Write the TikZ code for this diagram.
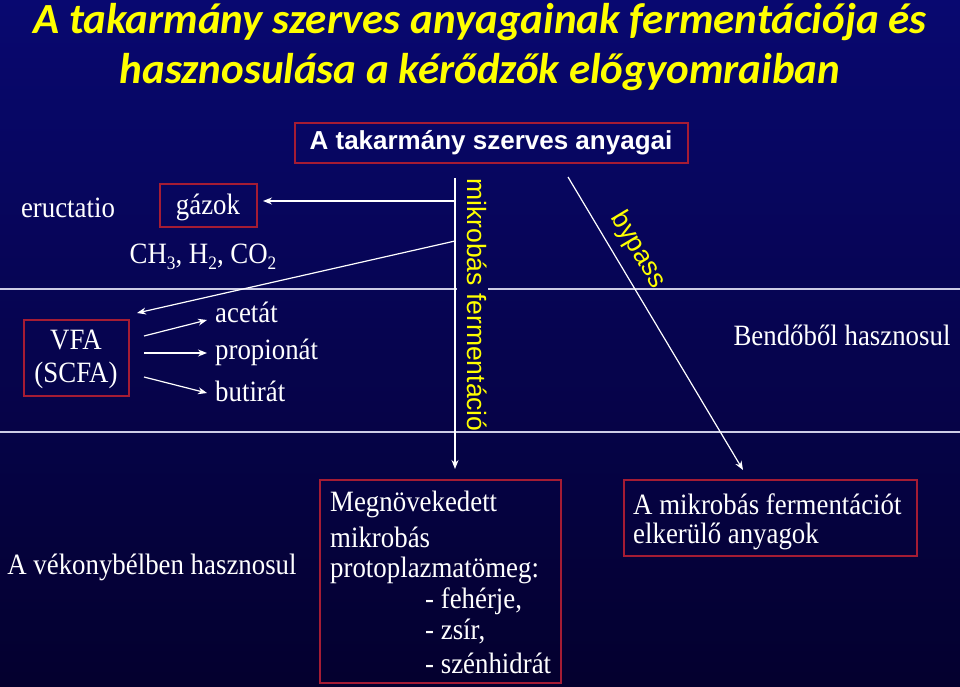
\documentclass[tikz,border=0pt]{standalone}
\usepackage{fontspec}
\setmainfont{Liberation Serif}[FakeStretch=0.91]
\newfontfamily\titlefont{Carlito}
\newfontfamily\arial{Liberation Sans}
\usetikzlibrary{arrows.meta}
\definecolor{bgtop}{RGB}{8,8,112}
\definecolor{bgbot}{RGB}{4,0,46}
\definecolor{boxred}{RGB}{165,28,52}
\definecolor{linec}{RGB}{205,205,230}
\definecolor{ylw}{RGB}{255,255,0}
\newcommand\sbs[1]{\raisebox{-0.45ex}{\fontsize{19}{19}\selectfont #1}}
\tikzset{
  x=1pt, y=-1pt,
  txt/.style={text=white, font=\fontsize{29.5}{33}\selectfont, inner sep=0pt},
  redbox/.style={draw=boxred, line width=1.5pt},
  rule/.style={draw=linec, line width=1.2pt},
  arr/.style={draw=white, line width=1.2pt, -{Stealth[length=9pt,width=7pt]}},
  ttl/.style={text=ylw, font=\titlefont\bfseries\itshape\fontsize{43}{43}\selectfont, inner sep=0pt},
  yel/.style={text=ylw, font=\arial\fontsize{26.5}{26.5}\selectfont, inner sep=0pt},
}
\begin{document}
\begin{tikzpicture}
\shade[top color=bgtop, bottom color=bgbot] (0,0) rectangle (960,687);
\useasboundingbox (0,0) rectangle (960,687);
% title
\node[ttl] (t1) at (480,22) {A takarmány szerves anyagainak fermentációja és};
\node[ttl] (t2) at (480,72) {hasznosulása a kérődzők előgyomraiban};
% top box
\draw[redbox] (295,123) rectangle (688,163);
\node[text=white, font=\arial\bfseries\fontsize{26}{26}\selectfont, inner sep=0pt] (top) at (491,143) {A takarmány szerves anyagai};
% horizontal rules
\draw[rule] (0,289) -- (457,289) (488,289) -- (960,289);
\draw[rule] (0,432) -- (960,432);
% left column
\node[txt] (eru) at (68,208) {eructatio};
\draw[redbox] (160,184) rectangle (257,227);
\node[txt] (gaz) at (208,207) {gázok};
\coordinate (gazE) at (263,201);
\node[txt] (ch) at (203,257) {CH\sbs{3}, H\sbs{2}, CO\sbs{2}};
\draw[redbox] (24,320) rectangle (129,396);
\node[txt, align=center] (vfa) at (76,359) {VFA\\(SCFA)};
\node[txt, anchor=west] (ace) at (215,312) {acetát};
\node[txt, anchor=west] (pro) at (215,352) {propionát};
\node[txt, anchor=west] (but) at (215,391) {butirát};
\coordinate (v1) at (144,336);
\coordinate (v2) at (144,353);
\coordinate (v3) at (144,377);
\coordinate (a1) at (207,320);
\coordinate (a2) at (207,353);
\coordinate (a3) at (207,393);
\coordinate (vfaNE) at (137,313);
\draw[arr] (v1) -- (a1);
\draw[arr] (v2) -- (a2);
\draw[arr] (v3) -- (a3);
% vertical fermentation line
\coordinate (vtop) at (455,178);
\coordinate (vbot) at (455,469);
\coordinate (vg) at (455,201);
\coordinate (vd) at (455,241);
\draw[arr] (vtop) -- (vbot);
\draw[arr] (vg) -- (gazE);
\draw[arr] (vd) -- (vfaNE);
\node[yel, rotate=-90] (mik) at (477,305) {mikrobás fermentáció};
% bypass
\coordinate (bp1) at (568,177);
\coordinate (bp2) at (743,470);
\draw[arr] (bp1) -- (bp2);
\node[yel, rotate=-59.2] (byp) at (638,250) {bypass};
\node[txt] (ben) at (842,335) {Bendőből hasznosul};
% bottom
\node[txt] (vek) at (152,567) {A vékonybélben hasznosul};
\draw[redbox] (320,480) rectangle (561,683);
\node[txt, anchor=west] (m1) at (330,504) {Megnövekedett};
\node[txt, anchor=west] (m2) at (330,537) {mikrobás};
\node[txt, anchor=west] (m3) at (330,570) {protoplazmatömeg:};
\node[txt, anchor=west] (m4) at (425,601) {- fehérje,};
\node[txt, anchor=west] (m5) at (425,632) {- zsír,};
\node[txt, anchor=west] (m6) at (425,663) {- szénhidrát};
\draw[redbox] (624,480) rectangle (917,556);
\node[txt, anchor=west] (e1) at (633,504) {A mikrobás fermentációt};
\node[txt, anchor=west] (e2) at (633,536) {elkerülő anyagok};
\end{tikzpicture}
\end{document}
